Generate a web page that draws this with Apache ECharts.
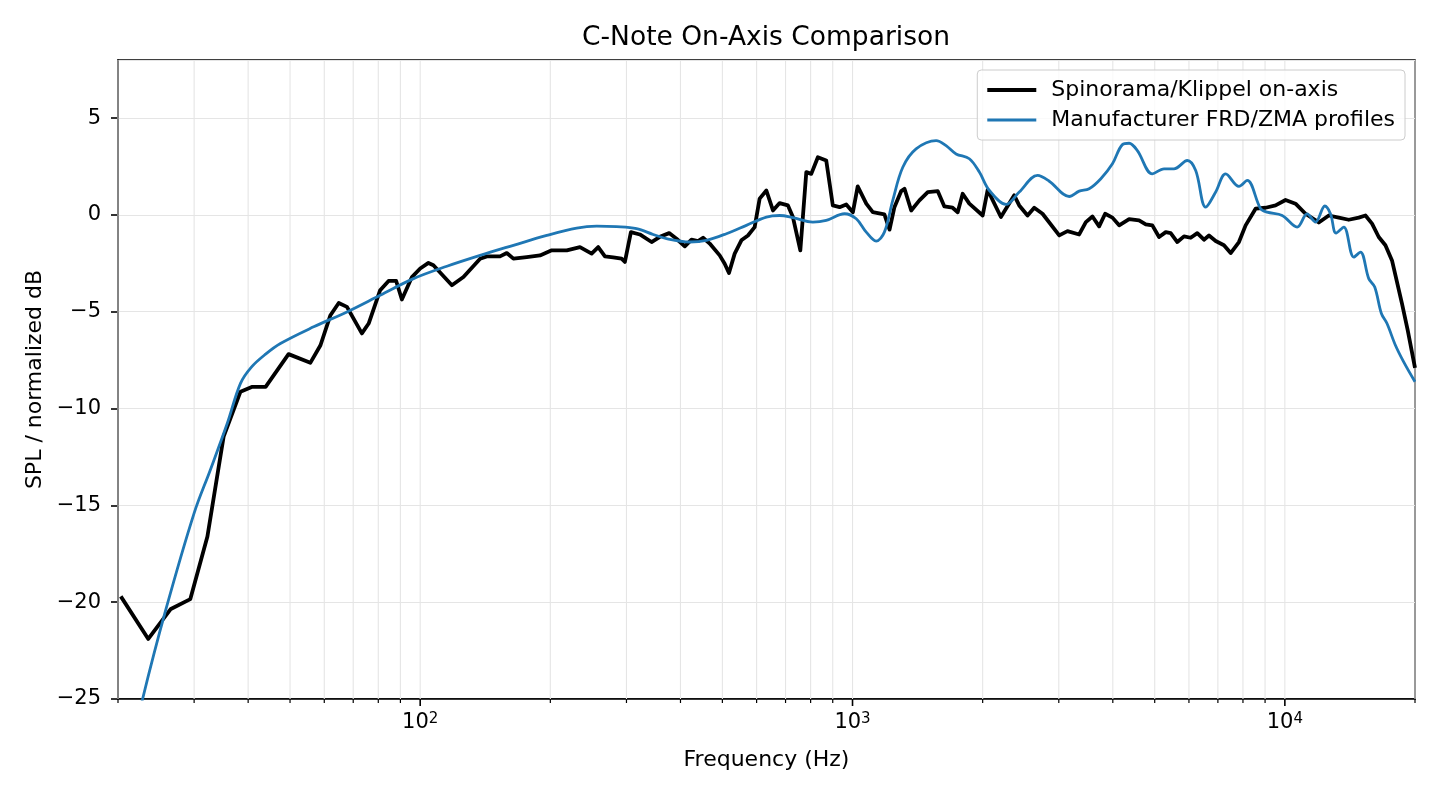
<!DOCTYPE html>
<html>
<head>
<meta charset="utf-8">
<script src="https://cdn.jsdelivr.net/npm/echarts@6/dist/echarts.min.js"></script>
<style>html,body{margin:0;padding:0;background:#fff}#chart{width:1440px;height:800px}</style>
</head>
<body>
<div id="chart"></div>
<script>
// ---- data ----
const blackName = 'Spinorama/Klippel on-axis';
const blueName = 'Manufacturer FRD/ZMA profiles';

const blackHz = [20.3, 23.5, 26.5, 29.4, 32.2, 35.1, 38.4, 40.9, 43.9, 49.6,
  55.7, 58.8, 62.0, 64.8, 67.7, 73.3, 76.0, 80.8, 84.5, 88.0,
  90.7, 95.7, 100, 104.5, 107.3, 118.4, 125.9, 137.6, 142.6, 153.0,
  158.6, 164.3, 176.4, 189.3, 201.5, 218.3, 234.2, 249.2, 258.1, 267.5,
  279.5, 292.3, 297.5, 307.2, 322.2, 342.9, 358.4, 376.6, 391.6, 409.3,
  424.2, 439.3, 451.1, 467.4, 492.9, 506.2, 517.9, 533.9, 553.3, 573.0,
  593.8, 609.8, 632.0, 654.6, 678.3, 709.0, 728.0, 757.3, 781.8, 802.8,
  831.5, 869.4, 900.4, 933.3, 967.2, 1002, 1028, 1076, 1114, 1185,
  1218, 1250, 1296, 1319, 1367, 1428, 1493, 1574, 1631, 1704,
  1751, 1798, 1863, 2000, 2054, 2204, 2366, 2430, 2540, 2632,
  2751, 3007, 3142, 3344, 3465, 3589, 3719, 3840, 3992, 4137,
  4363, 4600, 4767, 4937, 5117, 5303, 5445, 5640, 5844, 6056,
  6273, 6500, 6676, 6918, 7230, 7493, 7831, 8114, 8556, 9024,
  9517, 10037, 10585, 11163, 11982, 12637, 13327, 14055, 14823, 15361,
  15909, 16486, 17084, 17694, 18661, 19237, 20000];
const blackDb = [-19.70, -21.90, -20.35, -19.84, -16.61, -11.45, -9.13, -8.88, -8.88, -7.19,
  -7.64, -6.73, -5.18, -4.55, -4.75, -6.12, -5.61, -3.89, -3.41, -3.41,
  -4.37, -3.21, -2.77, -2.48, -2.60, -3.63, -3.21, -2.26, -2.14, -2.14,
  -1.97, -2.26, -2.18, -2.09, -1.83, -1.83, -1.66, -2.00, -1.66, -2.14,
  -2.19, -2.26, -2.43, -0.89, -1.01, -1.40, -1.13, -0.94, -1.23, -1.62,
  -1.28, -1.35, -1.18, -1.48, -2.09, -2.52, -3.00, -2.00, -1.31, -1.06,
  -0.63, 0.84, 1.26, 0.23, 0.61, 0.49, -0.11, -1.83, 2.21, 2.12,
  2.98, 2.81, 0.49, 0.40, 0.54, 0.14, 1.47, 0.58, 0.14, 0.03,
  -0.76, 0.40, 1.23, 1.35, 0.23, 0.75, 1.18, 1.23, 0.44, 0.37,
  0.14, 1.09, 0.58, -0.03, 1.29, -0.11, 1.01, 0.49, -0.03, 0.37,
  0.06, -1.06, -0.84, -1.01, -0.37, -0.08, -0.59, 0.06, -0.14, -0.54,
  -0.22, -0.28, -0.49, -0.54, -1.14, -0.89, -0.94, -1.40, -1.11, -1.18,
  -0.94, -1.28, -1.06, -1.35, -1.57, -1.97, -1.40, -0.54, 0.32, 0.37,
  0.49, 0.77, 0.58, 0.06, -0.39, -0.03, -0.14, -0.25, -0.14, -0.03,
  -0.45, -1.14, -1.57, -2.35, -4.58, -5.95, -7.90];

const blueHz = [20, 22.8, 25.8, 30.0, 32.7, 35.8, 38.4, 40.7, 43.9, 47.5,
  56.7, 67.7, 80.8, 96.5, 115.3, 137.6, 164.3, 196.2, 230.1, 256.0,
  284.7, 316.6, 345.8, 371.3, 420.3, 459.3, 510.8, 568.2, 632.0, 678.3,
  728.0, 809.6, 869.4, 958.3, 1020, 1076, 1134, 1185, 1239, 1307,
  1403, 1561, 1646, 1736, 1863, 1965, 2073, 2265, 2430, 2679,
  2851, 3171, 3344, 3526, 3753, 3992, 4210, 4363, 4559, 4937,
  5255, 5541, 5948, 6220, 6561, 6918, 7295, 7831, 8183, 8788,
  9101, 9857, 10676, 11259, 11773, 12372, 12751, 13137, 13687, 14434,
  14957, 15632, 16139, 16722, 17230, 18019, 18829, 20000];
const blueDb = [-30.5, -25.0, -20.39, -15.40, -13.17, -10.76, -8.70, -7.86, -7.19, -6.64,
  -5.78, -5.01, -4.15, -3.29, -2.65, -2.09, -1.57, -1.06, -0.68, -0.58,
  -0.61, -0.71, -1.01, -1.23, -1.40, -1.31, -0.97, -0.54, -0.11, -0.03,
  -0.14, -0.37, -0.28, 0.06, -0.20, -0.89, -1.35, -0.89, 0.75, 2.46,
  3.41, 3.84, 3.58, 3.15, 2.90, 2.21, 1.26, 0.54, 1.18, 2.04,
  1.74, 0.95, 1.23, 1.35, 1.87, 2.64, 3.63, 3.70, 3.32, 2.12,
  2.38, 2.38, 2.81, 2.29, 0.40, 1.18, 2.12, 1.47, 1.78, 0.32,
  0.14, -0.03, -0.63, 0.05, -0.37, 0.46, 0.06, -0.94, -0.63, -2.18,
  -1.92, -3.29, -3.72, -5.09, -5.61, -6.73, -7.59, -8.62];

const majorTicksHz = [100, 1000, 10000];
const minorTicksHz = [20, 30, 40, 50, 60, 70, 80, 90,
  200, 300, 400, 500, 600, 700, 800, 900,
  2000, 3000, 4000, 5000, 6000, 7000, 8000, 9000, 20000];
const yTicks = [-25, -20, -15, -10, -5, 0, 5];

const FONT = 'DejaVu Sans';
const chart = echarts.init(document.getElementById('chart'), null, {renderer: 'canvas'});

const tickData = majorTicksHz.map(f => [f, 1]).concat(minorTicksHz.map(f => [f, 0]));

function renderTicks(params, api) {
  const f = api.value(0);
  const major = api.value(1) === 1;
  const x = api.coord([f, 0])[0];
  const cs = params.coordSys;
  const bottom = cs.y + cs.height;
  return {
    type: 'group',
    children: [
      {type: 'line', shape: {x1: x, y1: cs.y, x2: x, y2: bottom}, style: {stroke: '#e5e5e5', lineWidth: 1.1}},
      {type: 'line', shape: {x1: x, y1: bottom, x2: x, y2: bottom + (major ? 7 : 4)}, style: {stroke: '#000', lineWidth: major ? 1.6 : 1.2}}
    ]
  };
}

function minus(v) { return v < 0 ? '\u2212' + Math.abs(v) : String(v); }

const option = {
  animation: false,
  backgroundColor: '#ffffff',
  title: {
    text: 'C-Note On-Axis Comparison',
    left: 766, top: 25, textAlign: 'center', padding: 0,
    textStyle: {fontFamily: FONT, fontSize: 26.5, fontWeight: 'normal', color: '#000'}
  },
  legend: {
    orient: 'vertical', right: 35, top: 70,
    data: [
      {name: blackName, icon: 'path://M0,0 M0,14 M0,5.1 L49,5.1 L49,8.9 L0,8.9 Z'},
      {name: blueName, icon: 'path://M0,0 M0,14 M0,5.6 L49,5.6 L49,8.4 L0,8.4 Z'}
    ],
    itemWidth: 49, itemHeight: 14, itemGap: 8,
    textStyle: {fontFamily: FONT, fontSize: 22, color: '#000', padding: [0, 0, 0, 10]},
    backgroundColor: 'rgba(255,255,255,0.8)',
    borderColor: '#cccccc', borderWidth: 1, borderRadius: 4,
    padding: [9, 10, 9, 10]
  },
  grid: {left: 118, right: 25, top: 60, bottom: 101, show: true, borderColor: '#000', borderWidth: 1.5, containLabel: false},
  xAxis: {
    type: 'log', logBase: 10, min: 20, max: 20000,
    name: 'Frequency (Hz)', nameLocation: 'middle', nameGap: 50,
    nameTextStyle: {fontFamily: FONT, fontSize: 22, color: '#000'},
    axisLine: {show: true, onZero: false, lineStyle: {color: '#000', width: 1.5}},
    axisTick: {show: false},
    splitLine: {show: false},
    axisLabel: {
      margin: 13, color: '#000', fontFamily: FONT, fontSize: 21,
      showMinLabel: false, showMaxLabel: false,
      formatter: function (v) {
        const e = Math.round(Math.log10(v));
        if (Math.abs(Math.pow(10, e) - v) / v < 1e-6 && majorTicksHz.indexOf(Math.pow(10, e)) >= 0) {
          return '{b|10}{s|' + e + '}';
        }
        return '';
      },
      rich: {
        b: {fontFamily: FONT, fontSize: 21, color: '#000'},
        s: {fontFamily: FONT, fontSize: 15, color: '#000', verticalAlign: 'top'}
      }
    }
  },
  yAxis: {
    type: 'value', min: -25, max: 8, interval: 5,
    name: 'SPL / normalized dB', nameLocation: 'middle', nameGap: 70,
    nameTextStyle: {fontFamily: FONT, fontSize: 22, color: '#000'},
    axisLine: {show: true, onZero: false, lineStyle: {color: '#000', width: 1.5}},
    axisTick: {show: true, length: 7, lineStyle: {color: '#000', width: 1.6}},
    splitLine: {show: true, lineStyle: {color: '#e5e5e5', width: 1.1}},
    axisLabel: {
      margin: 17, color: '#000', fontFamily: FONT, fontSize: 21,
      showMaxLabel: false,
      formatter: function (v) { return yTicks.indexOf(v) >= 0 ? minus(v) : ''; }
    }
  },
  series: [
    {
      type: 'custom', name: '_grid', renderItem: renderTicks, data: tickData,
      encode: {x: 0}, clip: false, silent: true, z: 1
    },
    {
      type: 'line', name: blackName, symbol: 'none',
      data: blackHz.map((f, i) => [f, blackDb[i]]),
      lineStyle: {color: '#000000', width: 3.8, join: 'round'},
      itemStyle: {color: '#000000'},
      clip: true, z: 3
    },
    {
      type: 'line', name: blueName, symbol: 'none', smooth: 0.35,
      data: blueHz.map((f, i) => [f, blueDb[i]]),
      lineStyle: {color: '#1f77b4', width: 2.8, join: 'round'},
      itemStyle: {color: '#1f77b4'},
      clip: true, z: 4
    }
  ]
};
chart.setOption(option);
</script>
</body>
</html>
